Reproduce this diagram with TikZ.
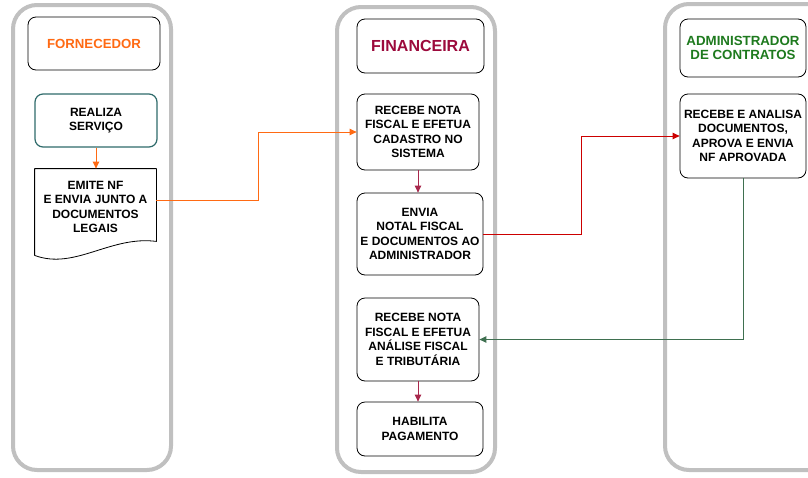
\documentclass[tikz,border=0pt]{standalone}
\usepackage{fontspec}
\setmainfont{Liberation Sans}
\usetikzlibrary{arrows.meta}
\definecolor{lanegray}{HTML}{C0C0C0}
\definecolor{forncol}{HTML}{FF6A13}
\definecolor{fincol}{HTML}{9C0A3C}
\definecolor{admcol}{HTML}{1E7A1E}
\definecolor{tealcol}{HTML}{2F6B6B}
\definecolor{crimarrow}{HTML}{A8284C}
\definecolor{redarrow}{HTML}{CC0000}
\definecolor{greenarrow}{HTML}{3F7050}
\tikzset{
  lane/.style={draw=lanegray, line width=4pt, rounded corners=24pt},
  hdr/.style={draw=black, line width=0.8pt, rounded corners=8pt, align=center, inner sep=0pt},
  proc/.style={draw=black, line width=0.8pt, rounded corners=8pt, align=center, inner sep=0pt,
    font=\fontsize{12}{14.5}\selectfont\bfseries},
  conn/.style={-{Triangle[length=7pt,width=6.5pt]}, line width=0.9pt}
}
\begin{document}
\begin{tikzpicture}[x=1pt,y=-1pt]
\useasboundingbox (0,0) rectangle (808,477);
\fill[white] (0,0) rectangle (808,477);
% lanes
\draw[lane] (13,5) rectangle (171,470);
\draw[lane] (337,7) rectangle (495,472);
\draw[lane] (665,4) rectangle (860,470);
% headers
\node[hdr, minimum width=132pt, minimum height=53pt, text=forncol,
  font=\fontsize{13.2}{15}\selectfont\bfseries] (hforn) at (94,43.5) {FORNECEDOR};
\node[hdr, minimum width=127pt, minimum height=54pt, text=fincol,
  font=\fontsize{16}{18}\selectfont\bfseries] (hfin) at (420.5,46) {FINANCEIRA};
\node[hdr, minimum width=126pt, minimum height=58pt, text=admcol,
  font=\fontsize{13.3}{14.5}\selectfont\bfseries] (hadm) at (743,48) {ADMINISTRADOR\\DE CONTRATOS};
% fornecedor lane
\node[proc, draw=tealcol, line width=1.2pt, minimum width=122pt, minimum height=53pt] (realiza) at (96,120.5) {REALIZA\\SERVIÇO};
\node[proc, draw=none, minimum width=121pt, minimum height=76pt] (emite) at (95.5,207) {EMITE NF\\E ENVIA JUNTO A\\DOCUMENTOS\\LEGAIS};
\draw[line width=0.8pt, line join=round] ([yshift=-10pt]emite.south west) -- (emite.north west) -- (emite.north east) -- ([yshift=4pt]emite.south east)
  .. controls ([xshift=-46pt,yshift=10pt]emite.south east) and ([xshift=40pt,yshift=-25pt]emite.south west) .. ([yshift=-10pt]emite.south west);
% financeira lane
\node[proc, minimum width=122pt, minimum height=76pt] (rec1) at (418,132) {RECEBE NOTA\\FISCAL E EFETUA\\CADASTRO NO\\SISTEMA};
\node[proc, minimum width=126pt, minimum height=82pt] (envia) at (420,234) {ENVIA\\NOTAL FISCAL\\E DOCUMENTOS AO\\ADMINISTRADOR};
\node[proc, minimum width=122pt, minimum height=83pt] (rec2) at (418,339.5) {RECEBE NOTA\\FISCAL E EFETUA\\ANÁLISE FISCAL\\E TRIBUTÁRIA};
\node[proc, minimum width=126pt, minimum height=54pt] (hab) at (420,429) {HABILITA\\PAGAMENTO};
% administrador lane
\node[proc, minimum width=126pt, minimum height=84pt] (recadm) at (743,136) {RECEBE E ANALISA\\DOCUMENTOS,\\APROVA E ENVIA\\NF APROVADA};
% connectors
\draw[conn, draw=forncol] (realiza.south) -- (realiza.south |- emite.north);
\draw[conn, draw=forncol] ([yshift=7pt]emite.east) -- ++(102,0) |- (rec1.west);
\draw[conn, draw=crimarrow] (rec1.south) -- (rec1.south |- envia.north);
\draw[conn, draw=redarrow] (envia.east) -- ++(98,0) |- (recadm.west);
\draw[conn, draw=greenarrow] (recadm.south) |- (rec2.east);
\draw[conn, draw=crimarrow] (rec2.south) -- (rec2.south |- hab.north);
\end{tikzpicture}
\end{document}
